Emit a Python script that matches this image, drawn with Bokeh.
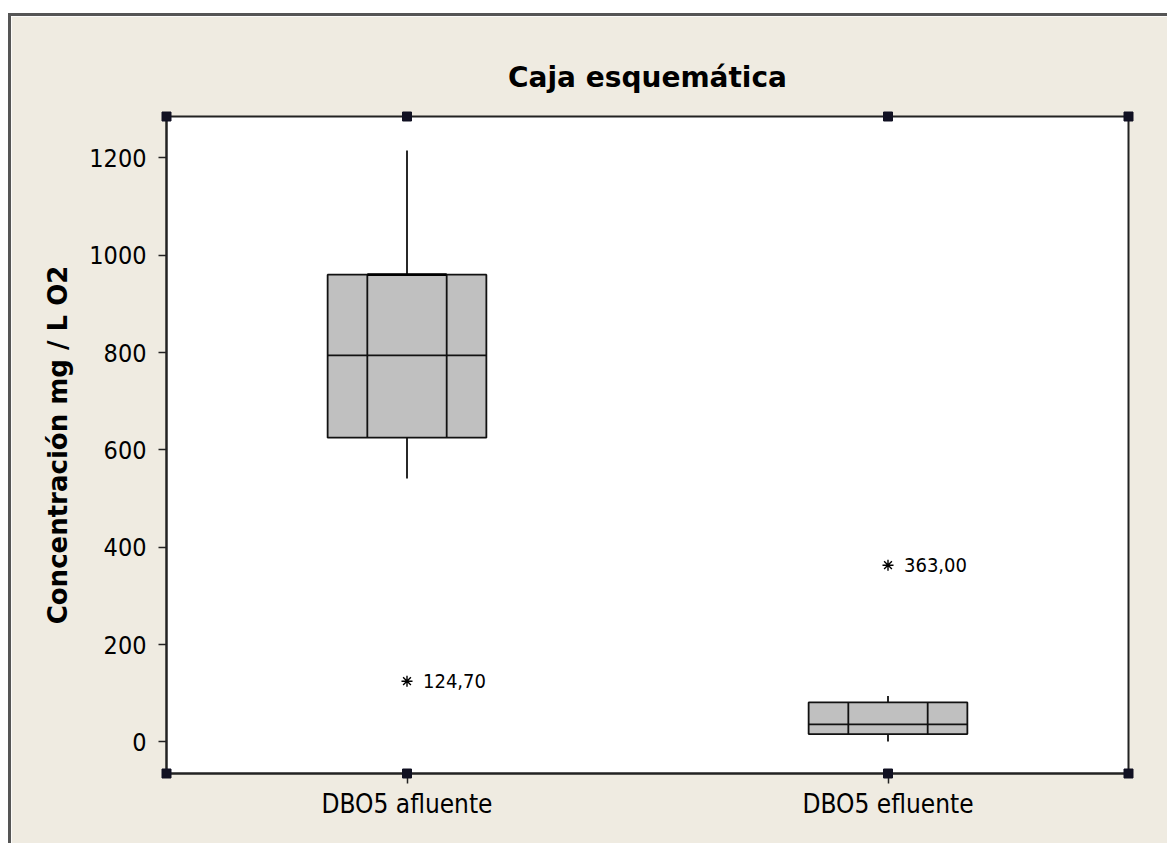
from bokeh.plotting import figure
from bokeh.models import FixedTicker, ColumnDataSource
from bokeh.embed import file_html
from bokeh.resources import INLINE
from bokeh.core.properties import value

# ---- data ----
categories = ["DBO5 afluente", "DBO5 efluente"]
q1 = [625, 16]
median = [794, 36]
q3 = [960, 81]
whisker_low = [541, 1]
whisker_high = [1215, 94]
outliers = [124.70, 363.00]
outlier_labels = ["124,70", "363,00"]
y_ticks = [0, 200, 400, 600, 800, 1000, 1200]

BG = "#EFEBE1"
TICK_FONT = "DejaVu Sans Condensed"

xs = [i + 0.5 for i in range(len(categories))]
box_w = 0.33

p = figure(width=1159, height=830, output_backend="svg", toolbar_location=None,
           x_range=(0, 2), y_range=(-65, 1285))
p.styles = {"margin-left": "8px", "margin-top": "13px",
            "border-left": "3px solid #555555", "border-top": "3px solid #555555"}
p.min_border_left = 155
p.min_border_top = 100
p.min_border_right = 42
p.min_border_bottom = 73
p.border_fill_color = BG
p.background_fill_color = "white"
p.outline_line_color = "#222222"
p.outline_line_width = 2
p.grid.visible = False

p.title.text = "Caja esquemática"
p.title.align = "center"
p.title.text_font = "DejaVu Sans"
p.title.text_font_style = "bold"
p.title.text_font_size = "28px"
p.title.text_color = "black"
p.title.standoff = 45

src = ColumnDataSource(dict(x=xs, q1=q1, med=median, q3=q3, lo=whisker_low, hi=whisker_high,
                            xl=[x - box_w / 2 for x in xs], xr=[x + box_w / 2 for x in xs],
                            xa=[x - box_w / 4 for x in xs], xb=[x + box_w / 4 for x in xs]))

LC = "#111111"
# whiskers
p.segment(x0="x", y0="q3", x1="x", y1="hi", source=src, line_color=LC, line_width=1.8)
p.segment(x0="x", y0="lo", x1="x", y1="q1", source=src, line_color=LC, line_width=1.8)
# boxes
p.vbar(x="x", width=box_w, bottom="q1", top="q3", source=src, fill_color="#C0C0C0",
       line_color=LC, line_width=1.8)
# inner vertical lines
p.segment(x0="xa", y0="q1", x1="xa", y1="q3", source=src, line_color=LC, line_width=1.8)
p.segment(x0="xb", y0="q1", x1="xb", y1="q3", source=src, line_color=LC, line_width=1.8)
# median
p.segment(x0="xl", y0="med", x1="xr", y1="med", source=src, line_color=LC, line_width=1.8)
# emphasis on the top edge between the inner lines (first box only)
p.segment(x0=[xs[0] - box_w / 4], y0=[q3[0]], x1=[xs[0] + box_w / 4], y1=[q3[0]],
          line_color="black", line_width=2.8)

# outliers
osrc = ColumnDataSource(dict(x=xs, y=outliers, t=outlier_labels))
p.scatter(x="x", y="y", source=osrc, marker="asterisk", size=11, line_color="black", line_width=1.4)
p.text(x="x", y="y", text="t", source=osrc, x_offset=16, text_baseline="middle",
       text_font=value(TICK_FONT), text_font_size="20px", text_color="black")

# selection handles
hx = [0, 2, 0, 2] + xs + xs
hy = [1285, 1285, -65, -65] + [1285] * len(xs) + [-65] * len(xs)
p.scatter(x=hx, y=hy, marker="square", size=9, fill_color="#111122", line_color="#111122",
          level="overlay")

# axes
p.yaxis.ticker = FixedTicker(ticks=y_ticks)
p.yaxis.axis_label = "Concentración mg / L O2"
p.yaxis.axis_label_text_font = "DejaVu Sans"
p.yaxis.axis_label_text_font_style = "bold"
p.yaxis.axis_label_text_font_size = "26px"
p.yaxis.axis_label_text_color = "black"
p.yaxis.axis_label_standoff = 13
p.yaxis.major_label_text_font = TICK_FONT
p.yaxis.major_label_text_font_size = "25px"
p.yaxis.major_label_text_color = "black"
p.yaxis.major_label_standoff = 12
p.yaxis.major_tick_out = 8
p.yaxis.major_tick_in = 0
p.yaxis.minor_tick_line_color = None
p.yaxis.axis_line_color = "#222222"
p.yaxis.axis_line_width = 2
p.yaxis.major_tick_line_color = "#222222"
p.yaxis.major_tick_line_width = 1.5

p.xaxis.ticker = FixedTicker(ticks=xs)
p.xaxis.major_label_overrides = {x: c for x, c in zip(xs, categories)}
p.xaxis.major_label_text_font = TICK_FONT
p.xaxis.major_label_text_font_size = "26px"
p.xaxis.major_label_text_color = "black"
p.xaxis.major_label_standoff = 5
p.xaxis.major_tick_out = 10
p.xaxis.major_tick_in = 0
p.xaxis.minor_tick_line_color = None
p.xaxis.axis_line_color = "#222222"
p.xaxis.axis_line_width = 2
p.xaxis.major_tick_line_color = "#222222"
p.xaxis.major_tick_line_width = 1.5

open("out.html", "w").write(file_html(p, INLINE))
